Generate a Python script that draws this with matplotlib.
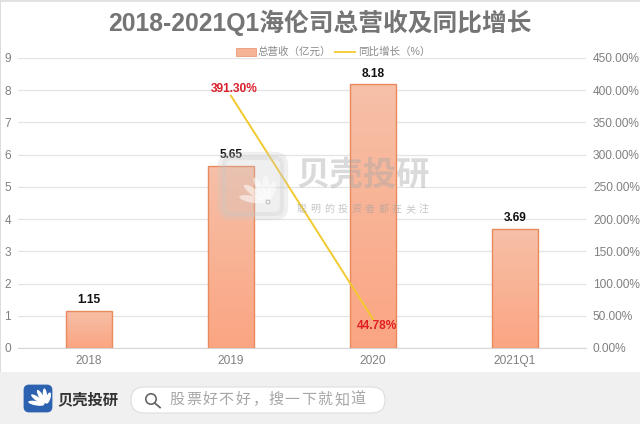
import matplotlib
matplotlib.use('Agg')
import matplotlib.pyplot as plt
import numpy as np
from matplotlib.colors import LinearSegmentedColormap
from matplotlib.patches import FancyBboxPatch, Ellipse, Circle, Rectangle

plt.rcParams['font.family'] = ['Liberation Sans', 'Noto Sans CJK SC', 'DejaVu Sans']

years = ['2018', '2019', '2020', '2021Q1']
revenue = [1.15, 5.65, 8.18, 3.69]
growth = [np.nan, 391.30, 44.78, np.nan]
rev_labels = ['1.15', '5.65', '8.18', '3.69']
growth_labels = ['391.30%', '44.78%']
left_ticks = list(range(10))
right_ticks = [0, 50, 100, 150, 200, 250, 300, 350, 400, 450]

W, H = 640, 424
fig = plt.figure(figsize=(W / 100, H / 100), dpi=100, facecolor='white')

# page furniture, in pixel coordinates
bg = fig.add_axes([0, 0, 1, 1], zorder=0)
bg.set_xlim(0, W)
bg.set_ylim(H, 0)
bg.axis('off')
bg.add_patch(Rectangle((0, 372), W, 52, fc='#f0f0f0', ec='none'))
bg.add_patch(Rectangle((0, 0), W, 1.5, fc='#e2e2e2', ec='none'))
bg.add_patch(Rectangle((0, 0), 1.2, 372, fc='#dddddd', ec='none'))

# axes
ax = fig.add_axes([18 / W, 1 - 348 / H, 568 / W, 290 / H], zorder=2)
ax.patch.set_alpha(0)
x = np.arange(len(years))
ax.set_xlim(-0.5, 3.5)
ax.set_ylim(0, 9)
ax.set_yticks(left_ticks)
ax.set_xticks(x)
ax.set_xticklabels(years)
ax.tick_params(length=0, labelsize=8.6, labelcolor='#808080')
ax.tick_params(axis='x', pad=5)
ax.tick_params(axis='y', pad=5)
ax.grid(axis='y', color='#e4e4e4', lw=0.9)
ax.set_axisbelow(True)
for s in ['top', 'left', 'right']:
    ax.spines[s].set_visible(False)
ax.spines['bottom'].set_color('#d6d6d6')

# gradient bars
cmap = LinearSegmentedColormap.from_list('bar', ['#fba582', '#f6c0a8'])
grad = np.linspace(0, 1, 256).reshape(-1, 1)
bars = ax.bar(x, revenue, width=0.317, facecolor='none', edgecolor='#e9895c', lw=1, zorder=3)
for b in bars:
    im = ax.imshow(grad, origin='lower', cmap=cmap, aspect='auto', zorder=2.5,
                   extent=[b.get_x(), b.get_x() + b.get_width(), 0, b.get_height()])
    im.set_clip_path(b)
ax.set_xlim(-0.5, 3.5)
ax.set_ylim(0, 9)
for xi, v, lab in zip(x, revenue, rev_labels):
    ax.annotate(lab, (xi, v), xytext=(0, 3.5), textcoords='offset points', ha='center', va='bottom',
                fontsize=8.6, fontweight='bold', color='#111111', zorder=6)

# growth line on the right axis
ax2 = ax.twinx()
ax2.set_zorder(3)
ax2.patch.set_alpha(0)
ax2.set_ylim(0, 450)
ax2.set_yticks(right_ticks)
ax2.set_yticklabels(['%.2f%%' % t for t in right_ticks])
ax2.tick_params(length=0, labelsize=8.6, labelcolor='#808080', pad=5)
for s in ax2.spines.values():
    s.set_visible(False)
ax2.plot(x, growth, color='#f2c92e', lw=1.4, zorder=4)
ax2.annotate(growth_labels[0], (x[1], growth[1]), xytext=(2, 5), textcoords='offset points',
             ha='center', va='center', fontsize=8.6, fontweight='bold', color='#d8202a')
ax2.annotate(growth_labels[1], (x[2], growth[2]), xytext=(3, -5), textcoords='offset points',
             ha='center', va='center', fontsize=8.6, fontweight='bold', color='#e02020')

# watermark and footer on top
fg = fig.add_axes([0, 0, 1, 1], zorder=4)
fg.set_xlim(0, W)
fg.set_ylim(H, 0)
fg.axis('off')


def shell(cx, cy, scale, color, alpha=1.0):
    # fan of petals used in the logo
    for ang, ln in zip([-80, -55, -30, -6, 18], [26, 26, 25, 24, 19]):
        t = np.radians(ang)
        px = cx + np.sin(t) * ln * 0.62 * scale
        py = cy - np.cos(t) * ln * 0.62 * scale
        fg.add_patch(Ellipse((px, py), 7 * scale, ln * scale, angle=ang, fc=color, ec='none', alpha=alpha))


fg.add_patch(FancyBboxPatch((222, 156), 62, 60, boxstyle='round,pad=0,rounding_size=9',
                            fc='#c8c8c8', ec='#c8c8c8', lw=6, alpha=0.28, joinstyle='round'))
shell(268, 202, 1.0, 'white', 0.55)
fg.add_patch(Circle((268, 202), 1.8, fc='white', ec='#bdbdbd', lw=0.8))
fg.text(363, 176, '贝壳投研', ha='center', va='center', fontsize=24, fontweight='bold',
        color='#a8a8a8', alpha=0.42)
sub_chars = '聪明的投资者都在关注'
for sub_x, ch in zip(np.linspace(302, 424, len(sub_chars)), sub_chars):
    fg.text(sub_x, 209, ch, ha='center', va='center', fontsize=7.2, color='#a0a0a0', alpha=0.6)

# title and legend
fg.text(320, 23, '2018-2021Q1海伦司总营收及同比增长', ha='center', va='center', fontsize=17.8,
        fontweight='bold', color='#757575')
fg.add_patch(Rectangle((236, 48), 20, 8, fc='#f6b497', ec='#eb9a75', lw=0.6))
fg.text(258, 52, '总营收（亿元）', ha='left', va='center', fontsize=7.6, color='#8a8a8a')
fg.plot([335, 355], [51.5, 51.5], color='#f2c92e', lw=1.3)
fg.text(358, 52, '同比增长（%）', ha='left', va='center', fontsize=7.6, color='#8a8a8a')

# footer logo and search box
fg.add_patch(FancyBboxPatch((25, 386), 26, 25, boxstyle='round,pad=0,rounding_size=4',
                            fc='#2d62b0', ec='#2d62b0', lw=2))
shell(46, 405, 0.62, 'white')
fg.text(57, 399.5, '贝壳投研', ha='left', va='center', fontsize=11, fontweight='bold', color='#333333')
fg.add_patch(FancyBboxPatch((131, 387), 254, 26, boxstyle='round,pad=0,rounding_size=13',
                            fc='white', ec='#dddddd', lw=0.8))
fg.add_patch(Circle((151, 399), 5.2, fc='none', ec='#666666', lw=1.2))
fg.plot([154.7, 160], [403, 407.5], color='#666666', lw=1.3)
search_chars = '股票好不好，搜一下就知道'
for search_x, ch in zip(np.linspace(177, 358, len(search_chars)), search_chars):
    fg.text(search_x, 400, ch, ha='center', va='center', fontsize=10.8, color='#a6a6a6')

fig.savefig('out.png', dpi=100, facecolor='white')
